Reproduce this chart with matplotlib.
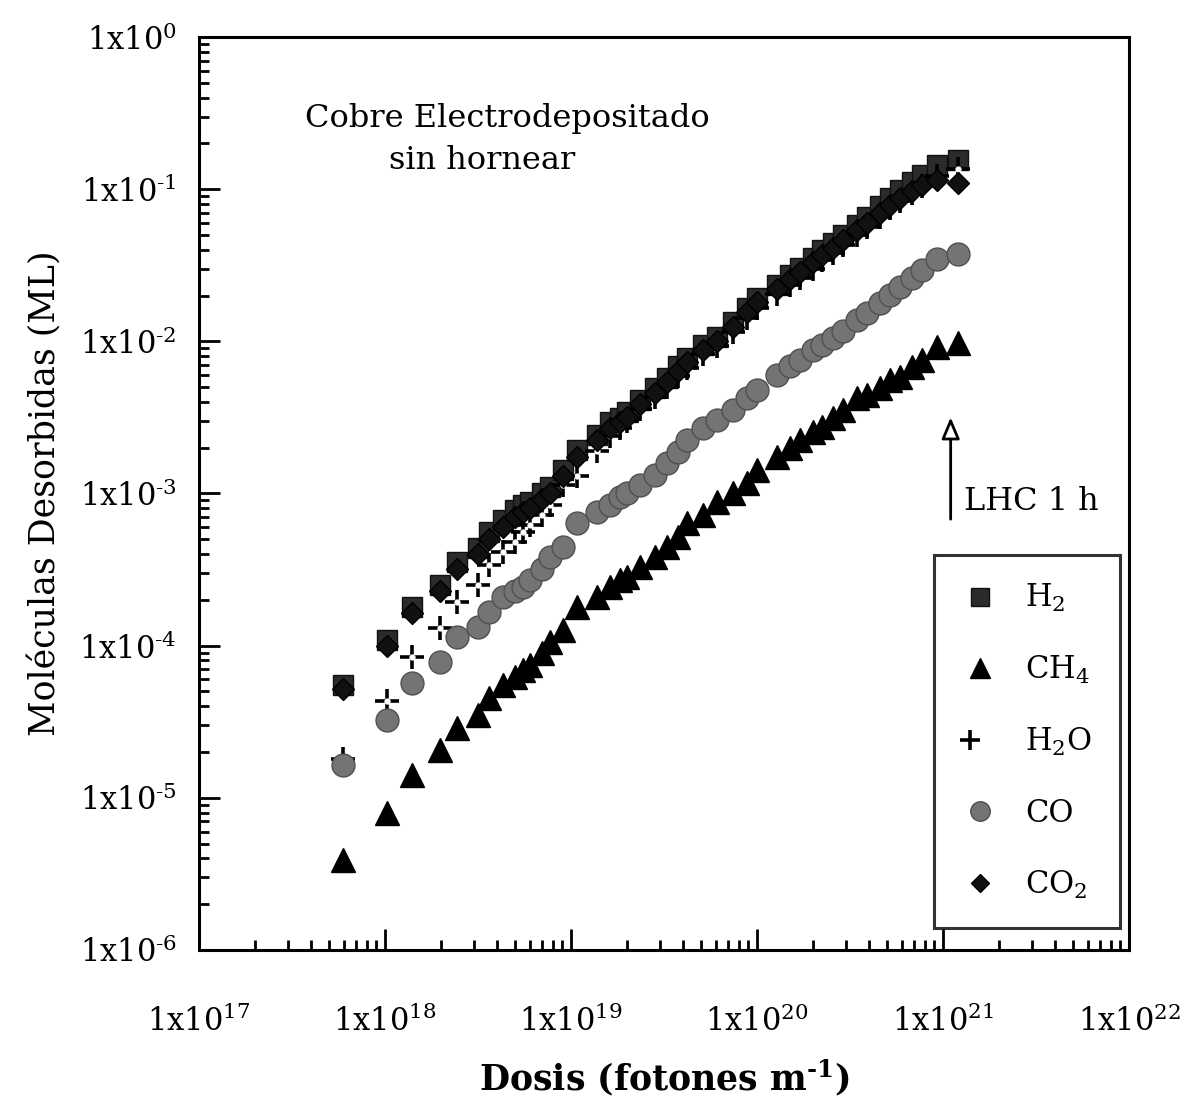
import math
import matplotlib
matplotlib.use("Agg")
import matplotlib.pyplot as plt
from matplotlib.ticker import LogLocator, FuncFormatter, NullFormatter
from matplotlib.legend_handler import HandlerTuple

plt.rcParams['font.family'] = ['DejaVu Serif']
plt.rcParams['mathtext.fontset'] = 'custom'
plt.rcParams['mathtext.rm'] = 'DejaVu Serif'
plt.rcParams['mathtext.bf'] = 'DejaVu Serif:bold'
plt.rcParams['mathtext.default'] = 'regular'

# Dose (photons per metre), shared by all series
dose = [5.94e17, 1.03e18, 1.40e18, 1.98e18, 2.44e18, 3.16e18, 3.62e18, 4.31e18,
        5.0e18, 5.52e18, 6.02e18, 6.98e18, 7.7e18, 9.06e18, 1.08e19, 1.38e19,
        1.62e19, 1.83e19, 2.0e19, 2.35e19, 2.83e19, 3.28e19, 3.76e19, 4.2e19,
        5.13e19, 6.1e19, 7.43e19, 8.84e19, 1.0e20, 1.28e20, 1.50e20, 1.70e20,
        2.0e20, 2.24e20, 2.56e20, 2.90e20, 3.45e20, 3.9e20, 4.58e20, 5.19e20,
        5.87e20, 6.81e20, 7.71e20, 9.28e20, 1.20e21]

h2 = [5.5e-5, 1.09e-4, 1.8e-4, 2.5e-4, 3.55e-4, 4.4e-4, 5.6e-4, 6.7e-4,
      7.8e-4, 8.4e-4, 8.8e-4, 1.01e-3, 1.1e-3, 1.43e-3, 1.93e-3, 2.43e-3,
      2.95e-3, 3.14e-3, 3.44e-3, 4.12e-3, 4.94e-3, 5.75e-3, 6.9e-3, 7.8e-3,
      9.5e-3, 1.07e-2, 1.34e-2, 1.66e-2, 1.93e-2, 2.35e-2, 2.73e-2, 3.04e-2,
      3.53e-2, 3.99e-2, 4.43e-2, 5.0e-2, 5.82e-2, 6.56e-2, 7.76e-2, 8.75e-2,
      9.9e-2, 0.111, 0.124, 0.144, 0.156]

ch4 = [3.9e-6, 8.0e-6, 1.42e-5, 2.07e-5, 2.88e-5, 3.5e-5, 4.5e-5, 5.5e-5,
       6.2e-5, 6.9e-5, 7.5e-5, 9.0e-5, 1.06e-4, 1.27e-4, 1.8e-4, 2.1e-4,
       2.43e-4, 2.7e-4, 2.83e-4, 3.3e-4, 3.83e-4, 4.46e-4, 5.2e-4, 6.4e-4,
       7.2e-4, 8.8e-4, 1.01e-3, 1.17e-3, 1.43e-3, 1.74e-3, 2.0e-3, 2.25e-3,
       2.54e-3, 2.74e-3, 3.14e-3, 3.54e-3, 4.25e-3, 4.45e-3, 4.94e-3, 5.57e-3,
       5.83e-3, 6.79e-3, 7.55e-3, 9.2e-3, 9.76e-3]

h2o = [1.8e-5, 4.3e-5, 8.4e-5, 1.31e-4, 1.94e-4, 2.5e-4, 3.4e-4, 4.1e-4,
       4.8e-4, 5.6e-4, 6.2e-4, 7.2e-4, 8.4e-4, 1.14e-3, 1.3e-3, 1.9e-3,
       2.4e-3, 2.7e-3, 3.0e-3, 3.6e-3, 4.3e-3, 5.0e-3, 5.9e-3, 6.7e-3,
       8.2e-3, 9.3e-3, 1.15e-2, 1.42e-2, 1.65e-2, 2.05e-2, 2.35e-2, 2.6e-2,
       3.0e-2, 3.4e-2, 3.8e-2, 4.3e-2, 5.0e-2, 5.6e-2, 6.6e-2, 7.5e-2,
       8.4e-2, 9.5e-2, 0.105, 0.122, 0.135]

co = [1.65e-5, 3.25e-5, 5.7e-5, 7.8e-5, 1.14e-4, 1.33e-4, 1.67e-4, 2.1e-4,
      2.3e-4, 2.43e-4, 2.7e-4, 3.2e-4, 3.8e-4, 4.45e-4, 6.4e-4, 7.6e-4,
      8.4e-4, 9.5e-4, 1.01e-3, 1.14e-3, 1.33e-3, 1.59e-3, 1.88e-3, 2.25e-3,
      2.7e-3, 3.05e-3, 3.54e-3, 4.25e-3, 4.8e-3, 6.0e-3, 6.9e-3, 7.55e-3,
      8.8e-3, 9.5e-3, 1.05e-2, 1.17e-2, 1.38e-2, 1.54e-2, 1.79e-2, 2.02e-2,
      2.28e-2, 2.61e-2, 2.95e-2, 3.48e-2, 3.75e-2]

co2 = [5.2e-5, 1.0e-4, 1.65e-4, 2.3e-4, 3.2e-4, 4.0e-4, 5.0e-4, 6.0e-4,
       7.0e-4, 7.6e-4, 8.0e-4, 9.2e-4, 1.0e-3, 1.3e-3, 1.75e-3, 2.25e-3,
       2.7e-3, 2.95e-3, 3.2e-3, 3.85e-3, 4.6e-3, 5.4e-3, 6.4e-3, 7.3e-3,
       8.8e-3, 1.0e-2, 1.25e-2, 1.55e-2, 1.8e-2, 2.2e-2, 2.55e-2, 2.85e-2,
       3.3e-2, 3.7e-2, 4.1e-2, 4.6e-2, 5.4e-2, 6.0e-2, 7.0e-2, 7.9e-2,
       8.8e-2, 9.8e-2, 0.107, 0.115, 0.11]

labels = [r'H$_2$', r'CH$_4$', r'H$_2$O', 'CO', r'CO$_2$']

fig = plt.figure(figsize=(11.88, 11.05), dpi=100)
ax = fig.add_axes([0.1675, 0.1403, 0.7828, 0.8262])

h_h2, = ax.plot(dose, h2, ls='none', marker='s', ms=15, color='#2b2b2b', mec='#111111', mew=1)
h_ch4, = ax.plot(dose, ch4, ls='none', marker='^', ms=17, color='black', mec='black')
h_h2o, = ax.plot(dose, h2o, ls='none', marker='+', ms=17, color='black', mew=2.6)
h_h2o_c, = ax.plot(dose, h2o, ls='none', marker='o', ms=3.5, color='white', mec='white')
h_co, = ax.plot(dose, co, ls='none', marker='o', ms=16.5, color='#747474', mec='#505050', mew=1)
h_co2, = ax.plot(dose, co2, ls='none', marker='D', ms=11, color='#111111', mec='black')

ax.set_xscale('log')
ax.set_yscale('log')
ax.set_xlim(1e17, 1e22)
ax.set_ylim(1e-6, 1e0)

def fmt(v, pos):
    e = int(round(math.log10(v)))
    if e < 0:
        return r'1x10$^{\text{-}%d}$' % (-e)
    return r'1x10$^{%d}$' % e

ax.xaxis.set_major_locator(LogLocator(base=10, numticks=10))
ax.yaxis.set_major_locator(LogLocator(base=10, numticks=10))
ax.xaxis.set_minor_locator(LogLocator(base=10, subs=range(2, 10), numticks=20))
ax.yaxis.set_minor_locator(LogLocator(base=10, subs=range(2, 10), numticks=20))
ax.xaxis.set_major_formatter(FuncFormatter(fmt))
ax.yaxis.set_major_formatter(FuncFormatter(fmt))
ax.xaxis.set_minor_formatter(NullFormatter())
ax.yaxis.set_minor_formatter(NullFormatter())

ax.tick_params(which='both', direction='in', top=False, right=False, width=2)
ax.tick_params(which='major', length=15, labelsize=22)
ax.tick_params(axis='x', which='major', pad=40)
ax.tick_params(axis='y', which='major', pad=16)
ax.tick_params(which='minor', length=7)
for s in ax.spines.values():
    s.set_linewidth(2.2)

ax.set_xlabel('Dosis (fotones m$^{\\mathbf{\u2010}\\mathbf{1}}$)', fontsize=25,
              fontweight='bold', labelpad=14)
ax.set_ylabel('Moléculas Desorbidas (ML)', fontsize=25, labelpad=12)

ax.text(0.114, 0.911, 'Cobre Electrodepositado', transform=ax.transAxes,
        fontsize=23, ha='left', va='center')
ax.text(0.204, 0.865, 'sin hornear', transform=ax.transAxes,
        fontsize=23, ha='left', va='center')

ax.annotate('', xy=(1.1e21, 3.3e-3), xytext=(1.1e21, 6.5e-4),
            arrowprops=dict(arrowstyle='-|>,head_length=1.3,head_width=0.55',
                            lw=2, fc='white', ec='black'))
ax.text(1.3e21, 8.8e-4, 'LHC 1 h', fontsize=23, ha='left', va='center')

leg = ax.legend([h_h2, h_ch4, (h_h2o, h_h2o_c), h_co, h_co2], labels,
                handler_map={tuple: HandlerTuple(ndivide=None, pad=0)},
                loc='lower right', bbox_to_anchor=(0.99, 0.024),
                fontsize=22, labelspacing=1.3, handlelength=1.2,
                handletextpad=0.9, borderpad=0.9, borderaxespad=0,
                frameon=True, fancybox=False, edgecolor='black', markerscale=0.85)
leg.get_frame().set_linewidth(2.2)

fig.savefig('out.png', dpi=100)
